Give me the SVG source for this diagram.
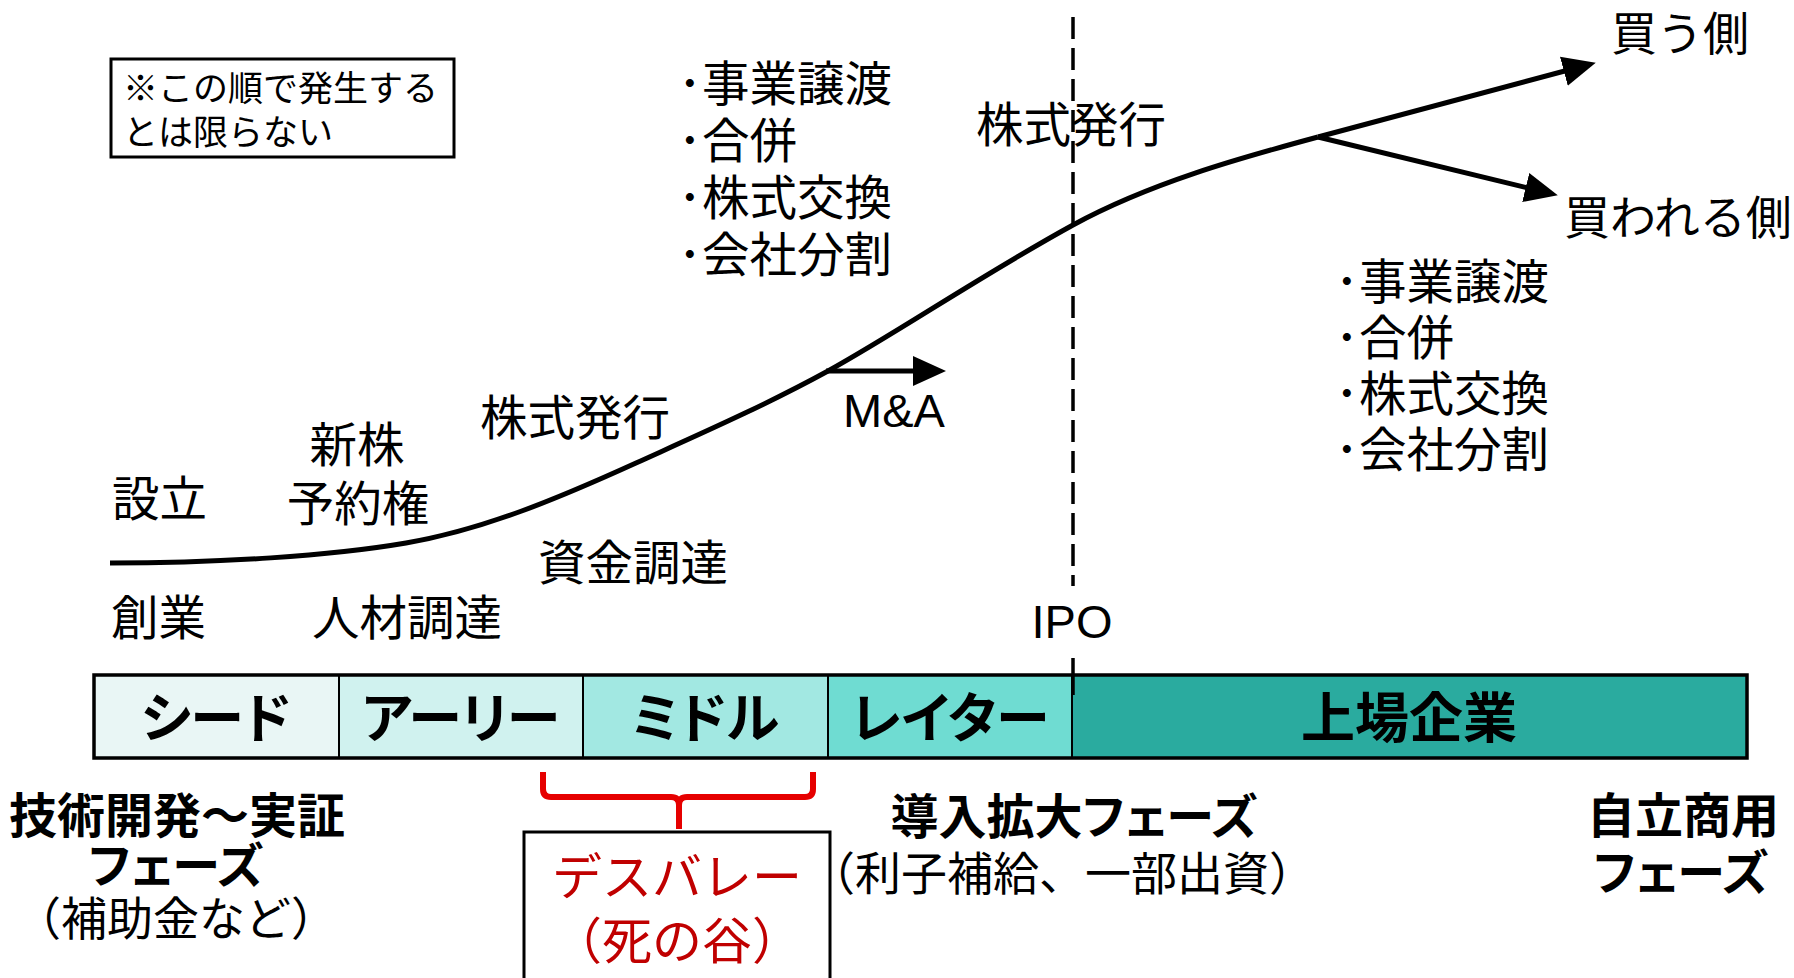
<svg xmlns="http://www.w3.org/2000/svg" width="1794" height="978" viewBox="0 0 1794 978">
  <defs>
    <style>
      .t { font-family: "Noto Sans CJK JP", "Noto Sans", sans-serif; font-size: 47.5px; fill: #000; }
      .note { font-size: 35px; }
      .b { font-weight: bold; font-size: 48px; font-feature-settings: "palt" 1; }
      .bar { font-weight: bold; font-size: 54px; font-feature-settings: "palt" 1; text-anchor: middle; }
      .sm { font-size: 46px; }
      .mid { text-anchor: middle; }
      .lat { font-family: "Liberation Sans", Arial, sans-serif; font-size: 47px; fill: #000; }
      .red { fill: #c00000; font-size: 50px; }
      .line { fill: none; stroke: #000; stroke-width: 5; }
      .dash { stroke: #000; stroke-width: 3.5; stroke-dasharray: 22 9; }
      .seg { stroke: #000; stroke-width: 2; }
    </style>
    <marker id="ah" markerUnits="userSpaceOnUse" markerWidth="34" markerHeight="32" viewBox="0 0 34 32" refX="26" refY="16" orient="auto">
      <path d="M0,1 L33,16 L0,31 z" fill="#000"/>
    </marker>
  </defs>
  <rect width="1794" height="978" fill="#fff"/>

  <g id="note">
    <rect x="111" y="59" width="343" height="98" fill="#fff" stroke="#000" stroke-width="3"/>
    <text class="t note" x="123" y="101">※この順で発生する</text>
    <text class="t note" x="123" y="145">とは限らない</text>
  </g>

  <g id="bar">
    <rect id="seed" class="seg" x="94" y="675" width="245" height="83" fill="#e9f6f5"/>
    <rect id="early" class="seg" x="339" y="675" width="244" height="83" fill="#d0f2ef"/>
    <rect id="middle" class="seg" x="583" y="675" width="245" height="83" fill="#a2e8e2"/>
    <rect id="later" class="seg" x="828" y="675" width="244" height="83" fill="#6fdcd2"/>
    <rect id="listed" class="seg" x="1072" y="675" width="675" height="83" fill="#2aab9f"/>
    <rect x="94" y="675" width="1653" height="83" fill="none" stroke="#000" stroke-width="3.5"/>
    <text class="t bar" x="216" y="738">シード</text>
    <text class="t bar" x="461" y="738">アーリー</text>
    <text class="t bar" x="705" y="738">ミドル</text>
    <text class="t bar" x="950" y="738">レイター</text>
    <text class="t bar" x="1409" y="738">上場企業</text>
  </g>

  <g id="connectors">
    <path class="line" d="M110,563 C220,563 330,556 406,543 C483,530 559,498 636,463 C700,434 764,406 828,371 C900,331 980,276 1073,225 C1150,183 1240,158 1318,137"/>
    <line class="line" x1="1318" y1="137" x2="1589" y2="64.5" marker-end="url(#ah)"/>
    <line class="line" x1="1318" y1="137" x2="1551" y2="193.6" marker-end="url(#ah)"/>
    <line class="line" x1="826" y1="371" x2="939" y2="371" marker-end="url(#ah)"/>
    <line class="dash" x1="1073" y1="17" x2="1073" y2="586"/>
    <line x1="1073" y1="658" x2="1073" y2="695" stroke="#000" stroke-width="3.5"/>
    <path d="M543,772 L543,789 Q543,797 551,797 L671,797 Q679,797 679,805 L679,829 M679,805 Q679,797 687,797 L805,797 Q813,797 813,789 L813,772" fill="none" stroke="#e60000" stroke-width="6"/>
  </g>

  <g id="labels-top">
    <text class="t" x="112" y="516">設立</text>
    <text class="t mid" x="357" y="462">新株</text>
    <text class="t mid" x="358" y="521">予約権</text>
    <text class="t" x="480" y="435">株式発行</text>
    <text class="t" x="538" y="580">資金調達</text>
    <text class="t" x="111" y="635">創業</text>
    <text class="t" x="312" y="635">人材調達</text>
    <text class="lat" x="843" y="427">M&amp;A</text>
    <text class="lat mid" x="1072" y="638">IPO</text>
    <text class="t" x="976" y="142">株式発行</text>
    <text class="t sm" x="1611" y="50">買う側</text>
    <text class="t sm" x="1564" y="234">買われる側</text>
  </g>

  <g id="list-left">
    <text class="t" y="101"><tspan x="678">･</tspan><tspan x="702">事業譲渡</tspan></text>
    <text class="t" y="158"><tspan x="678">･</tspan><tspan x="702">合併</tspan></text>
    <text class="t" y="215"><tspan x="678">･</tspan><tspan x="702">株式交換</tspan></text>
    <text class="t" y="272"><tspan x="678">･</tspan><tspan x="702">会社分割</tspan></text>
  </g>

  <g id="list-right">
    <text class="t" y="299"><tspan x="1335">･</tspan><tspan x="1359">事業譲渡</tspan></text>
    <text class="t" y="355"><tspan x="1335">･</tspan><tspan x="1359">合併</tspan></text>
    <text class="t" y="411"><tspan x="1335">･</tspan><tspan x="1359">株式交換</tspan></text>
    <text class="t" y="467"><tspan x="1335">･</tspan><tspan x="1359">会社分割</tspan></text>
  </g>

  <g id="phase-tech">
    <text class="t b mid" x="177" y="833">技術開発～実証</text>
    <text class="t b mid" x="176" y="883">フェーズ</text>
    <text class="t sm mid" x="176" y="935">（補助金など）</text>
  </g>

  <g id="phase-expand">
    <text class="t b mid" x="1074" y="834">導入拡大フェーズ</text>
    <text class="t sm mid" x="1062" y="890">（利子補給、一部出資）</text>
  </g>

  <g id="phase-commercial">
    <text class="t b mid" x="1683" y="833">自立商用</text>
    <text class="t b mid" x="1681" y="890">フェーズ</text>
  </g>

  <g id="death-valley">
    <rect x="524" y="832" width="306" height="160" fill="#fff" stroke="#000" stroke-width="3"/>
    <text class="t red mid" x="677" y="895">デスバレー</text>
    <text class="t red mid" x="677" y="959">（死の谷）</text>
  </g>
</svg>
